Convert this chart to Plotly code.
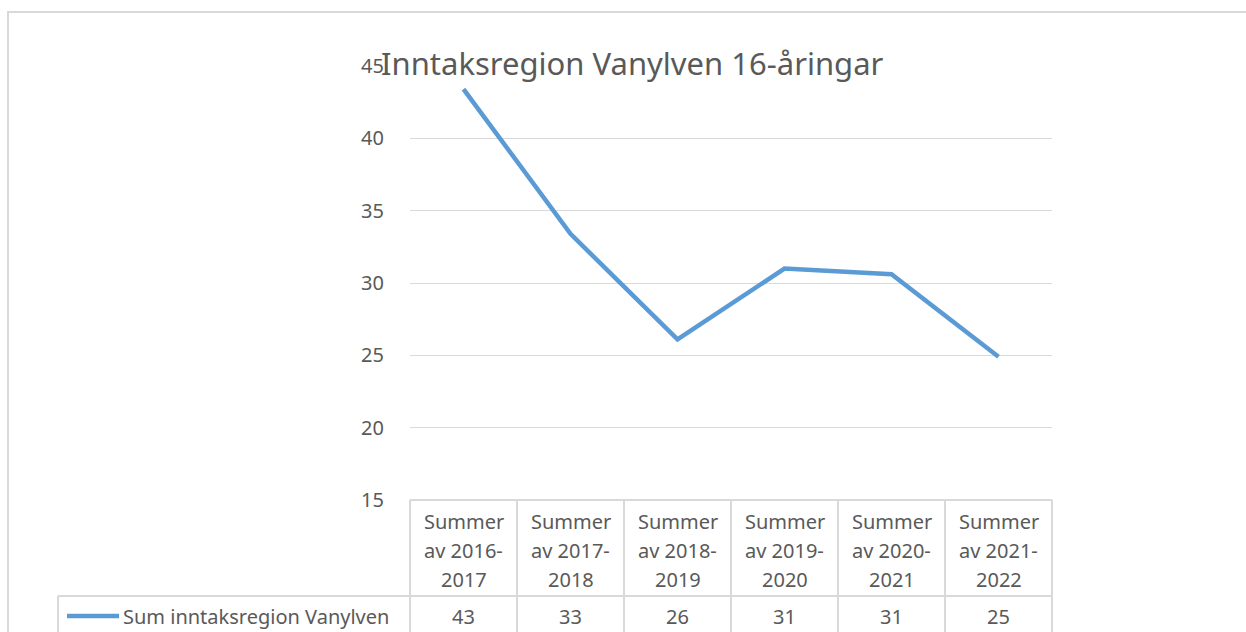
import plotly.graph_objects as go

W, H = 1246, 632

# Data
categories = ["2016-2017", "2017-2018", "2018-2019", "2019-2020", "2020-2021", "2021-2022"]
values = [43.4, 33.4, 26.1, 31.0, 30.6, 24.9]
series_name = "Sum inntaksregion Vanylven"
title_text = "Inntaksregion Vanylven 16-åringar"
y_ticks = [15, 20, 25, 30, 35, 40, 45]

TEXT = "#595959"
GRID = "#d9d9d9"
LINE = "#5b9bd5"
FONT = "Noto Sans"
LBL = 20


def px(x):
    return x / W


def py(y):
    return 1 - y / H


plot_left, plot_right = 410, 1052
plot_top, plot_bottom = 66, 500
header_bottom = 596
row_bottom = 640
legend_left = 58

fig = go.Figure()
fig.add_trace(go.Scatter(
    x=categories, y=values, mode="lines", name=series_name,
    line=dict(color=LINE, width=4.5), showlegend=False,
))

fig.update_layout(
    width=W, height=H, autosize=False,
    margin=dict(l=0, r=0, t=0, b=0, pad=0, autoexpand=False),
    paper_bgcolor="white", plot_bgcolor="white",
    font=dict(family=FONT, color=TEXT, size=LBL),
    xaxis=dict(domain=[px(plot_left), px(plot_right)], type="category",
               showticklabels=False, showgrid=False, zeroline=False, automargin=False,
               showline=False, ticks="", range=[-0.5, len(categories) - 0.5]),
    yaxis=dict(domain=[py(plot_bottom), py(plot_top)], range=[15, 45], automargin=False,
               tickvals=y_ticks, showgrid=True, gridcolor=GRID, gridwidth=1.3,
               zeroline=False, showline=False, ticks="", ticklen=0,
               ticklabelstandoff=25,
               tickfont=dict(size=LBL, color=TEXT, family=FONT)),
)

shapes = []
lc = dict(color=GRID, width=2)
# outer chart border
shapes.append(dict(type="rect", xref="paper", yref="paper",
                   x0=px(8), x1=px(1260), y0=py(660), y1=py(12), line=lc))
# table horizontal lines
shapes.append(dict(type="line", xref="paper", yref="paper",
                   x0=px(plot_left), x1=px(plot_right), y0=py(plot_bottom), y1=py(plot_bottom), line=lc))
shapes.append(dict(type="line", xref="paper", yref="paper",
                   x0=px(legend_left), x1=px(plot_right), y0=py(header_bottom), y1=py(header_bottom), line=lc))
# table vertical lines
n = len(categories)
for i in range(n + 1):
    xx = plot_left + (plot_right - plot_left) * i / n
    shapes.append(dict(type="line", xref="paper", yref="paper",
                       x0=px(xx), x1=px(xx), y0=py(plot_bottom), y1=py(row_bottom), line=lc))
shapes.append(dict(type="line", xref="paper", yref="paper",
                   x0=px(legend_left), x1=px(legend_left), y0=py(header_bottom), y1=py(row_bottom), line=lc))
# legend key line
shapes.append(dict(type="line", xref="paper", yref="paper",
                   x0=px(67), x1=px(119), y0=py(616), y1=py(616),
                   line=dict(color=LINE, width=4.5)))

annotations = []
annotations.append(dict(text=title_text, xref="paper", yref="paper",
                        x=px(632), y=py(63), xanchor="center", yanchor="middle",
                        showarrow=False, font=dict(size=31, color=TEXT, family=FONT)))
for cat, v in zip(categories, values):
    a, b = cat.split("-")
    lines = ["Summer", f"av {a}-", b]
    for j, t in enumerate(lines):
        annotations.append(dict(text=t, xref="x", yref="paper", x=cat, y=py(521 + 29 * j),
                                xanchor="center", yanchor="middle", showarrow=False,
                                font=dict(size=LBL, color=TEXT, family=FONT)))
    annotations.append(dict(text=str(round(v)), xref="x", yref="paper", x=cat, y=py(616),
                            xanchor="center", yanchor="middle", showarrow=False,
                            font=dict(size=LBL, color=TEXT, family=FONT)))
annotations.append(dict(text=series_name, xref="paper", yref="paper",
                        x=px(121), y=py(616), xanchor="left", yanchor="middle",
                        showarrow=False, font=dict(size=LBL, color=TEXT, family=FONT)))

fig.update_layout(shapes=shapes, annotations=annotations)
fig.write_html("out.html", config={"displayModeBar": False},
               post_script="document.body.style.margin='0';document.body.style.overflow='hidden';")
